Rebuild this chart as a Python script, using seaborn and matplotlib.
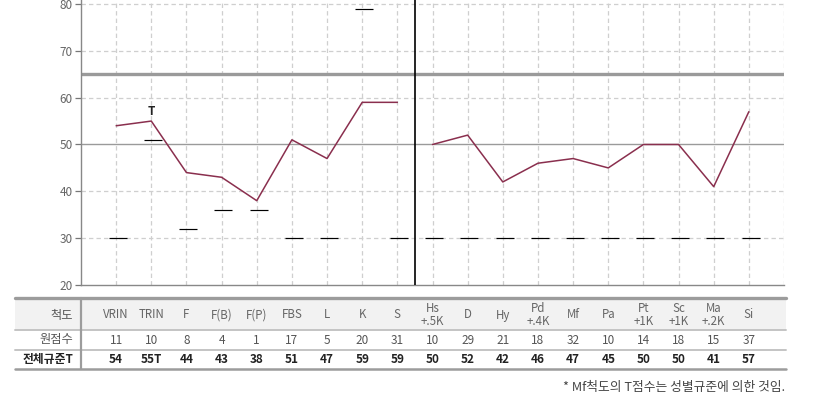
import numpy as np
import matplotlib
matplotlib.use("Agg")
import matplotlib.pyplot as plt
import seaborn as sns

# scale names, raw scores and T scores
scales = ["VRIN", "TRIN", "F", "F(B)", "F(P)", "FBS", "L", "K", "S",
          "Hs\n+.5K", "D", "Hy", "Pd\n+.4K", "Mf", "Pa", "Pt\n+1K", "Sc\n+1K", "Ma\n+.2K", "Si"]
raw_scores = [11, 10, 8, 4, 1, 17, 5, 20, 31,
              10, 29, 21, 18, 32, 10, 14, 18, 15, 37]
t_scores = [54, 55, 44, 43, 38, 51, 47, 59, 59,
            50, 52, 42, 46, 47, 45, 50, 50, 41, 57]
t_labels = ["54", "55T", "44", "43", "38", "51", "47", "59", "59",
            "50", "52", "42", "46", "47", "45", "50", "50", "41", "57"]
# short black reference marks under/above each scale
ref_marks = [30, 51, 32, 36, 36, 30, 30, 79, 30,
             30, 30, 30, 30, 30, 30, 30, 30, 30, 30]
n_validity = 9

sns.set_theme(style="white")
plt.rcParams["font.family"] = ["Noto Sans CJK KR", "DejaVu Sans"]

W, H = 814, 399
fig = plt.figure(figsize=(W / 100, H / 100), dpi=100)

left = 81 / W
right = 784 / W
bottom = (H - 285) / H
ax = fig.add_axes([left, bottom, right - left, 1 - bottom])

pos = np.arange(1, len(scales) + 1)
ax.set_xlim(0, len(scales) + 1)
ax.set_ylim(20, 80.85)

# grid
for yv in [30, 40, 60, 70, 80]:
    ax.axhline(yv, color="#cfcfcf", lw=0.9, ls=(0, (3.5, 2.5)), zorder=1)
for xv in list(pos) + [len(scales) + 1]:
    ax.axvline(xv, color="#cfcfcf", lw=0.9, ls=(0, (3.5, 2.5)), zorder=1)
ax.axhline(50, color="#9a9a9a", lw=1.0, zorder=2)
ax.axhline(65, color="#9a9a9a", lw=2.4, zorder=2)
ax.axvline(n_validity + 0.5, color="black", lw=1.2, zorder=3)

line_col = "#8a2f4e"
sns.lineplot(x=pos[:n_validity], y=t_scores[:n_validity], ax=ax,
             color=line_col, lw=1.1, zorder=4)
sns.lineplot(x=pos[n_validity:], y=t_scores[n_validity:], ax=ax,
             color=line_col, lw=1.1, zorder=4)

ax.plot(pos + 0.05, ref_marks, ls="none", marker="_", ms=13.5, mew=0.85,
        color="black", zorder=5)
ax.text(pos[1], 57, "T", ha="center", va="center", fontsize=8.5,
        fontweight="bold", color="#222222")

ax.set_yticks(range(20, 81, 10))
ax.set_xticks([])
ax.tick_params(axis="y", colors="#777777", labelsize=8.5, length=4,
               width=0.9, left=True, pad=2)
for lab in ax.get_yticklabels():
    lab.set_color("#666666")
for s in ["top", "right"]:
    ax.spines[s].set_visible(False)
ax.spines["left"].set_color("#888888")
ax.spines["bottom"].set_color("#888888")
ax.spines["left"].set_linewidth(1.0)
ax.spines["bottom"].set_linewidth(1.0)
ax.patch.set_alpha(0)

# table below, x in scale units, y in pixels from the top
tb = fig.add_axes([left, 0, right - left, bottom])
tb.set_xlim(0, len(scales) + 1)
tb.set_ylim(H, 285)
tb.axis("off")
x0 = (15 - 81) / 35
x1 = len(scales) + 1 + 2 / 35
tb.fill_between([x0, x1], 299, 329, color="#f2f2f2", lw=0, clip_on=False)
tb.plot([x0, x1], [298, 298], color="#9c9c9c", lw=2.4, clip_on=False)
tb.plot([x0, x1], [329.5, 329.5], color="#c4c4c4", lw=1.4, clip_on=False)
tb.plot([x0, x1], [349.5, 349.5], color="#c4c4c4", lw=1.4, clip_on=False)
tb.plot([x0, x1], [369, 369], color="#9c9c9c", lw=1.8, clip_on=False)
tb.plot([0, 0], [298, 369], color="#9c9c9c", lw=1.6, clip_on=False)

lx = -8 / 35
tb.text(lx, 315, "척도", ha="right", va="center", fontsize=8.8, color="#555555")
tb.text(lx, 340, "원점수", ha="right", va="center", fontsize=8.8, color="#555555")
tb.text(lx, 359.5, "전체규준T", ha="right", va="center", fontsize=8.5,
        color="#222222", fontweight="bold")
for p, name, r, t in zip(pos, scales, raw_scores, t_labels):
    tb.text(p, 315, name, ha="center", va="center", fontsize=8.3,
            color="#666666", linespacing=0.95)
    tb.text(p, 340, str(r), ha="center", va="center", fontsize=8.5,
            color="#555555")
    tb.text(p, 359.5, t, ha="center", va="center", fontsize=8.5,
            color="#222222", fontweight="bold")

fig.text(785 / W, 1 - 387 / H, "* Mf척도의 T점수는 성별규준에 의한 것임.",
         ha="right", va="center", fontsize=9.2, color="#444444")

fig.savefig("out.png", dpi=100, facecolor="white")
